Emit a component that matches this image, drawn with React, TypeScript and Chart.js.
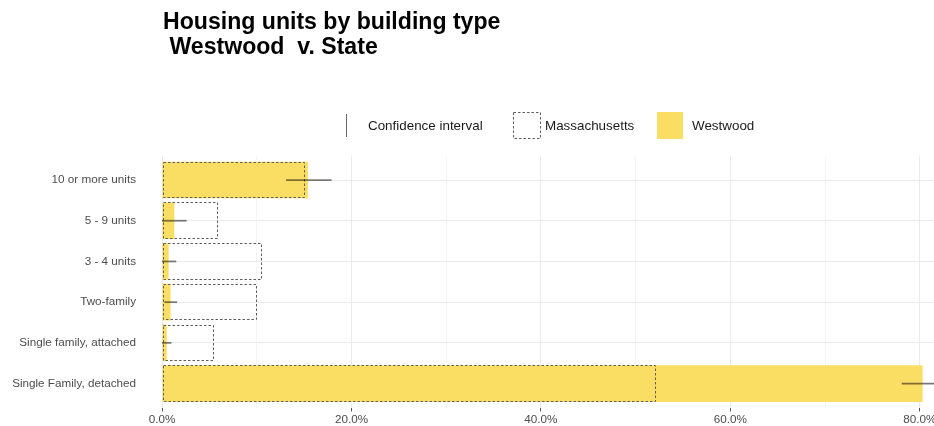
import React, { useEffect, useRef } from "react";
import { Chart, registerables } from "chart.js";

Chart.register(...registerables);

// Categories listed bottom-to-top (ggplot level order)
const categories = [
  "Single Family, detached",
  "Single family, attached",
  "Two-family",
  "3 - 4 units",
  "5 - 9 units",
  "10 or more units",
];
const westwood = [80.3, 0.5, 0.9, 0.7, 1.3, 15.4];
const massachusetts = [52.2, 5.5, 10.0, 10.6, 5.9, 15.1];
const ciLow = [78.1, 0.0, 0.25, 0.0, 0.0, 13.1];
const ciHigh = [82.5, 1.0, 1.6, 1.5, 2.6, 17.9];
const xTickValues = [0, 10, 20, 30, 40, 50, 60, 70, 80];
const titleLines = ["Housing units by building type", " Westwood  v. State"];
const legendLabels = ["Confidence interval", "Massachusetts", "Westwood"];

const YELLOW = "rgb(250,221,99)";
const DASH_COLOR = "#5e5e5e";
const CI_COLOR = "rgba(0,0,0,0.5)";
const FONT = '"Liberation Sans", Arial, Helvetica, sans-serif';

const overlayPlugin = {
  id: "overlay",
  afterDatasetsDraw(chart: any) {
    const ctx = chart.ctx;
    const xs = chart.scales.x;
    const ys = chart.scales.y;
    // dashed Massachusetts bars
    const meta = chart.getDatasetMeta(1);
    ctx.save();
    ctx.setLineDash([2.5, 2]);
    ctx.strokeStyle = DASH_COLOR;
    ctx.lineWidth = 1;
    meta.data.forEach((el: any) => {
      const p = el.getProps(["x", "y", "base", "height"], true);
      const left = Math.round(Math.min(p.base, p.x)) + 0.5;
      const right = Math.round(Math.max(p.base, p.x)) - 0.5;
      const top = Math.round(p.y - p.height / 2) + 0.5;
      const bottom = Math.round(p.y + p.height / 2) - 0.5;
      ctx.strokeRect(left, top, right - left, bottom - top);
    });
    ctx.restore();
    // confidence intervals
    ctx.save();
    ctx.strokeStyle = CI_COLOR;
    ctx.lineWidth = 1.8;
    categories.forEach((_, i) => {
      const yc = ys.getPixelForValue(i + 1);
      ctx.beginPath();
      ctx.moveTo(xs.getPixelForValue(ciLow[i]), yc);
      ctx.lineTo(xs.getPixelForValue(ciHigh[i]), yc);
      ctx.stroke();
    });
    ctx.restore();
  },
  afterDraw(chart: any) {
    const ctx = chart.ctx;
    const left = chart.chartArea.left + 1;
    ctx.save();
    ctx.fillStyle = "#000";
    ctx.textBaseline = "alphabetic";
    ctx.textAlign = "left";
    ctx.font = `bold 23.1px ${FONT}`;
    ctx.fillText(titleLines[0], left, 29);
    ctx.fillText(titleLines[1], left, 53.5);

    // legend
    const ly = 126;
    ctx.font = `13.4px ${FONT}`;
    ctx.fillStyle = "#1a1a1a";
    ctx.textBaseline = "middle";
    // CI key
    ctx.strokeStyle = "rgba(0,0,0,0.6)";
    ctx.lineWidth = 1;
    ctx.beginPath();
    ctx.moveTo(346.5, 114);
    ctx.lineTo(346.5, 137);
    ctx.stroke();
    ctx.fillText(legendLabels[0], 368, ly);
    // Massachusetts key
    ctx.setLineDash([2.5, 2]);
    ctx.strokeStyle = DASH_COLOR;
    ctx.strokeRect(513.5, 112.5, 27, 26);
    ctx.setLineDash([]);
    ctx.fillText(legendLabels[1], 545, ly);
    // Westwood key
    ctx.fillStyle = YELLOW;
    ctx.fillRect(657, 112, 26, 27);
    ctx.fillStyle = "#1a1a1a";
    ctx.fillText(legendLabels[2], 692, ly);
    ctx.restore();
  },
};

export default function App() {
  const ref = useRef<HTMLCanvasElement | null>(null);

  useEffect(() => {
    if (!ref.current) return;
    const chart = new Chart(ref.current, {
      type: "bar",
      data: {
        datasets: [
          {
            label: legendLabels[2],
            data: categories.map((_, i) => ({ x: westwood[i], y: i + 1 })),
            backgroundColor: YELLOW,
            borderWidth: 0,
            grouped: false,
            barPercentage: 0.9,
            categoryPercentage: 1,
          } as any,
          {
            label: legendLabels[1],
            data: categories.map((_, i) => ({ x: massachusetts[i], y: i + 1 })),
            backgroundColor: "rgba(0,0,0,0)",
            borderWidth: 0,
            grouped: false,
            barPercentage: 0.9,
            categoryPercentage: 1,
          } as any,
        ],
      },
      options: {
        indexAxis: "y",
        responsive: false,
        animation: false,
        devicePixelRatio: 1,
        layout: { padding: { top: 155.6, left: 0, right: 0, bottom: 0 } },
        plugins: {
          legend: { display: false },
          title: { display: false },
          tooltip: { enabled: false },
        },
        scales: {
          x: {
            type: "linear",
            min: 0,
            max: 81.5,
            offset: false,
            afterBuildTicks: (scale: any) => {
              scale.ticks = xTickValues.map((v) => ({ value: v }));
            },
            afterFit: (scale: any) => {
              scale.height = 18;
              scale.paddingRight = 0;
              scale.paddingLeft = 0;
            },
            border: { display: false },
            grid: {
              offset: false,
              color: (c: any) =>
                c.tick && c.tick.value % 20 === 0 ? "#ebebeb" : "#f4f4f4",
              tickColor: (c: any) =>
                c.tick && c.tick.value % 20 === 0 ? "#555555" : "rgba(0,0,0,0)",
              tickLength: 3.5,
              lineWidth: 1,
            },
            ticks: {
              autoSkip: false,
              maxRotation: 0,
              padding: 1,
              color: "#4d4d4d",
              font: { family: FONT, size: 11.7 },
              callback: (v: any) => (Number(v) % 20 === 0 ? Number(v).toFixed(1) + "%" : ""),
            },
          },
          y: {
            type: "linear",
            min: 0.4,
            max: 6.6,
            offset: false,
            afterBuildTicks: (scale: any) => {
              scale.ticks = categories.map((_, i) => ({ value: i + 1 }));
            },
            afterFit: (scale: any) => {
              scale.width = 162;
              scale.paddingTop = 0;
              scale.paddingBottom = 0;
            },
            border: { display: false },
            grid: { offset: false, color: "#ebebeb", drawTicks: false, lineWidth: 1 },
            ticks: {
              autoSkip: false,
              padding: 26,
              color: "#4d4d4d",
              font: { family: FONT, size: 11.7 },
              callback: (v: any) => categories[Math.round(Number(v)) - 1] ?? "",
            },
          },
        },
      } as any,
      plugins: [overlayPlugin],
    });
    return () => chart.destroy();
  }, []);

  return (
    <div style={{ position: "absolute", left: 0, top: 0, width: 934, height: 426, background: "#fff" }}>
      <canvas ref={ref} width={934} height={426} style={{ display: "block" }} />
    </div>
  );
}
